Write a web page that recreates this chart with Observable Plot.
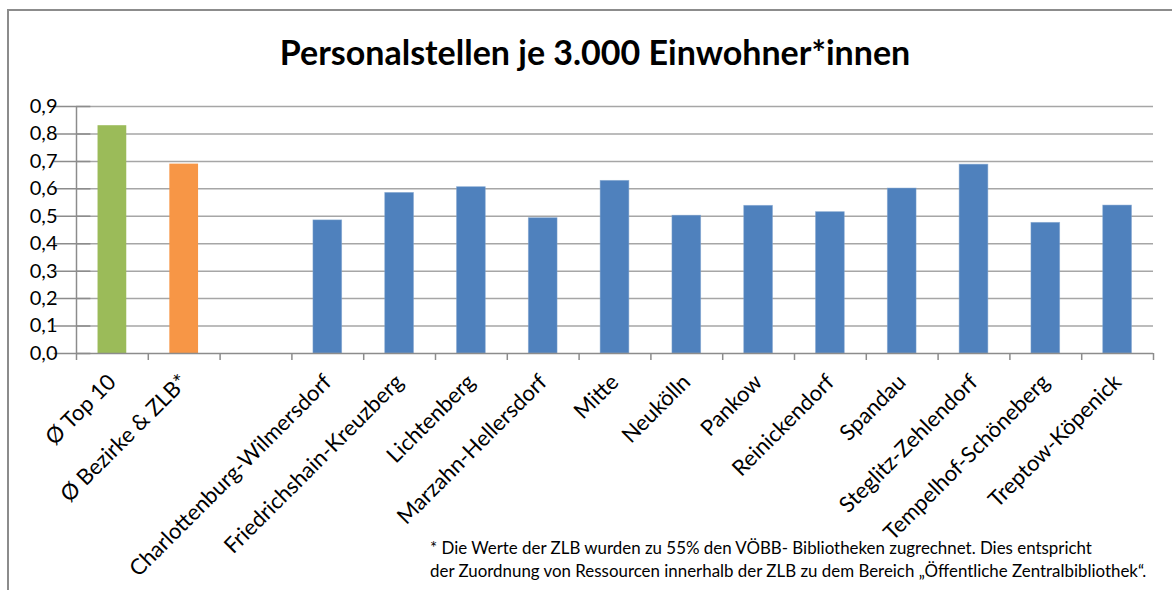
<!DOCTYPE html>
<html>
<head>
<meta charset="utf-8">
<script src="https://cdn.jsdelivr.net/npm/d3@7"></script>
<script src="https://cdn.jsdelivr.net/npm/@observablehq/plot@0.6"></script>
<style>
  html, body { margin: 0; padding: 0; background: #fff; }
  #wrap { position: relative; width: 1172px; height: 590px; overflow: hidden; font-family: Lato, "Noto Sans", sans-serif; }
  #frame { position: absolute; left: 7px; top: 9px; width: 1200px; height: 700px; border: 2px solid #8c8c8c; box-sizing: border-box; }
  #title { position: absolute; left: 0; width: 1190px; top: 31px; text-align: center; font-weight: bold; font-size: 34px; color: #000; }
  #note { position: absolute; left: 430px; top: 536px; font-size: 16.9px; line-height: 23px; color: #000; white-space: nowrap; }
  #chart { position: absolute; left: 0; top: 0; }
</style>
</head>
<body>
<div id="wrap">
  <div id="frame"></div>
  <div id="chart"></div>
  <div id="title">Personalstellen je 3.000 Einwohner*innen</div>
  <div id="note">* Die Werte der ZLB wurden zu 55% den VÖBB- Bibliotheken zugrechnet. Dies entspricht<br>der Zuordnung von Ressourcen innerhalb der ZLB zu dem Bereich „Öffentliche Zentralbibliothek“.</div>
</div>
<script>
const categories = [
  "Ø Top 10", "Ø Bezirke & ZLB*", "",
  "Charlottenburg-Wilmersdorf", "Friedrichshain-Kreuzberg", "Lichtenberg",
  "Marzahn-Hellersdorf", "Mitte", "Neukölln", "Pankow", "Reinickendorf",
  "Spandau", "Steglitz-Zehlendorf", "Tempelhof-Schöneberg", "Treptow-Köpenick"
];
const values = [0.83, 0.69, null, 0.485, 0.585, 0.606, 0.493, 0.629, 0.502, 0.538, 0.515, 0.601, 0.688, 0.476, 0.539];
const groups = ["top", "avg", "none", "b", "b", "b", "b", "b", "b", "b", "b", "b", "b", "b", "b"];
const yTicks = [0, 0.1, 0.2, 0.3, 0.4, 0.5, 0.6, 0.7, 0.8, 0.9];
const colors = {top: "#9bbb59", avg: "#f79646", none: "#ffffff", b: "#4f81bd"};

const data = categories.map((c, i) => ({cat: c, value: values[i], group: groups[i]}));
const bars = data.filter(d => d.value != null);

const W = 1172, H = 590, ML = 76, MR = 19, MT = 106, MB = 237;
const step = (W - ML - MR) / categories.length;

const chart = Plot.plot({
  width: W, height: H,
  marginLeft: ML, marginRight: MR, marginTop: MT, marginBottom: MB,
  style: {fontFamily: "Lato, 'Noto Sans', sans-serif", background: "transparent", color: "#000"},
  x: {domain: categories, paddingInner: 0.6, paddingOuter: 0.3, round: false, label: null},
  y: {domain: [0, 0.9], label: null},
  marks: [
    Plot.ruleY(yTicks.slice(1), {y: d => d, stroke: "#a6a6a6", strokeWidth: 1.5}),
    Plot.barY(bars, {x: "cat", y: "value", fill: d => colors[d.group], stroke: "#7fa3cf", strokeOpacity: d => d.group === "b" ? 0.6 : 0, strokeWidth: 0.8}),
    Plot.ruleY([0], {stroke: "#8c8c8c", strokeWidth: 1.5}),
    Plot.ruleX([0], {x: () => categories[0], dx: -step / 2, stroke: "#8c8c8c", strokeWidth: 1.5}),
    Plot.ruleX(categories, {x: d => d, dx: -step / 2, y1: 0, y2: 0, insetBottom: -7, stroke: "#8c8c8c", strokeWidth: 1.5}),
    Plot.ruleX([categories[categories.length - 1]], {x: d => d, dx: step / 2, y1: 0, y2: 0, insetBottom: -7, stroke: "#8c8c8c", strokeWidth: 1.5}),
    Plot.ruleY(yTicks, {y: d => d, x1: () => categories[0], x2: () => categories[0], dx: -step / 2, insetLeft: -8, stroke: "#8c8c8c", strokeWidth: 1.5}),
    Plot.axisY({ticks: yTicks, tickSize: 0, tickPadding: 19, tickFormat: d => d.toFixed(1).replace(".", ","), fontSize: 20, fill: "#000"}),
    Plot.axisX({tickSize: 0, tickPadding: 20, dy: 5, tickRotate: -45, fontSize: 22, fill: "#000", tickFormat: d => d})
  ]
});
document.getElementById("chart").appendChild(chart);
</script>
</body>
</html>
